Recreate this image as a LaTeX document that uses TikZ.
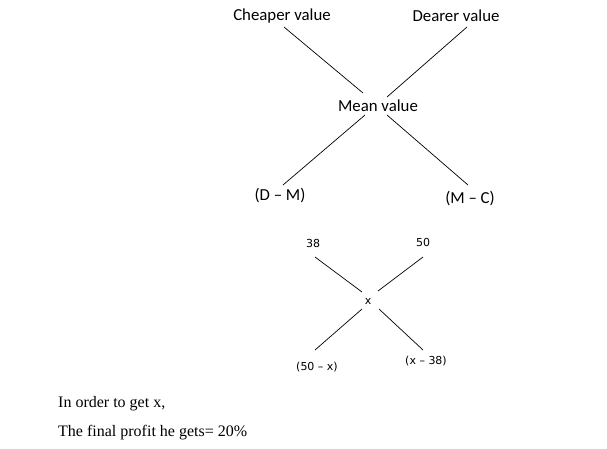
\documentclass[tikz,border=0pt]{standalone}
\usepackage{fontspec}
\setmainfont{Liberation Serif}
\newfontfamily\calfont{Carlito}
\newfontfamily\smallfont{DejaVu Sans}
\tikzset{
  biglabel/.style={font=\calfont\fontsize{16.8}{20}\selectfont, inner sep=0pt},
  smalllabel/.style={font=\smallfont\fontsize{11}{13}\selectfont, inner sep=0pt},
  textline/.style={font=\fontsize{16}{19}\selectfont, inner sep=0pt, anchor=west},
  arm/.style={line width=0.7pt}
}
\begin{document}
\begin{tikzpicture}[x=1pt,y=-1pt]
			\useasboundingbox (0,0) rectangle (607,448);
			% upper cross
			\node	(cheap) at (282,16) [biglabel] {Cheaper value};
			\node	(dear) at (456,16) [biglabel] {Dearer value};
			\node	(mean) at (378,106) [biglabel] {Mean value};
			\node	(dm) at (280,196) [biglabel] {(D – M)};
			\node	(mc) at (470,199) [biglabel] {(M – C)};
			\coordinate (c1) at (284,27);
			\coordinate (c2) at (363,93);
			\coordinate (d1) at (467,27);
			\coordinate (d2) at (387,97);
			\coordinate (e1) at (365,115);
			\coordinate (e2) at (283,185);
			\coordinate (f1) at (387,115);
			\coordinate (f2) at (468,185);
			
			\draw[arm]
			(c1) edge (c2)
			(d1) edge (d2)
			(e1) edge (e2)
			(f1) edge (f2)
			;
			% lower cross
			\node	(low) at (313,243) [smalllabel] {38};
			\node	(high) at (423,242) [smalllabel] {50};
			\node	(x) at (368,301) [smalllabel] {x};
			\node	(hx) at (317,367) [smalllabel] {(50 – x)};
			\node	(xl) at (426,361) [smalllabel] {(x – 38)};
			\coordinate (g1) at (315,257);
			\coordinate (g2) at (362,292);
			\coordinate (h1) at (423,257);
			\coordinate (h2) at (378,291);
			\coordinate (i1) at (362,309);
			\coordinate (i2) at (315,350);
			\coordinate (j1) at (379,309);
			\coordinate (j2) at (423,350);
			
			\draw[arm]
			(g1) edge (g2)
			(h1) edge (h2)
			(i1) edge (i2)
			(j1) edge (j2)
			;
			% text below
			\node	(t1) at (58,404) [textline] {In order to get x,};
			\node	(t2) at (58,433) [textline] {The final profit he gets= 20\%};
		\end{tikzpicture}
\end{document}
